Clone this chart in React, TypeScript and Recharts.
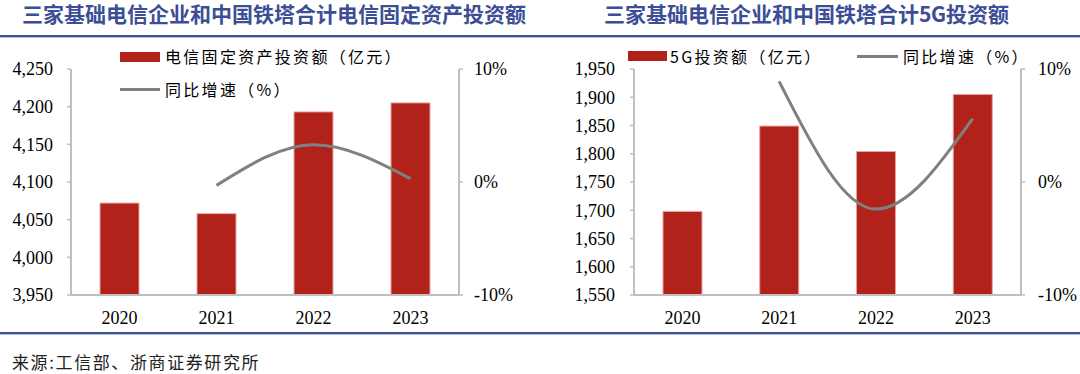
import React from "react";
import { ComposedChart, Bar, Line, XAxis, YAxis } from "recharts";

const years = ["2020", "2021", "2022", "2023"];
const telecomInvest = [4072, 4058, 4193, 4205];
const telecomGrowth: (number | null)[] = [null, -0.3, 3.3, 0.3];
const fiveGInvest = [1698, 1849, 1804, 1905];
const fiveGGrowth: (number | null)[] = [null, 8.9, -2.4, 5.6];

const leftTicks = [3950, 4000, 4050, 4100, 4150, 4200, 4250];
const rightTicks5G = [1550, 1600, 1650, 1700, 1750, 1800, 1850, 1900, 1950];
const pctTicks = [-10, 0, 10];

const leftTitle = "三家基础电信企业和中国铁塔合计电信固定资产投资额";
const rightTitle = "三家基础电信企业和中国铁塔合计5G投资额";
const leftBarName = "电信固定资产投资额（亿元）";
const rightBarName = "5G投资额（亿元）";
const growthName = "同比增速（%）";
const sourceText = "来源:工信部、浙商证券研究所";

const leftData = years.map((y, i) => ({ year: y, v: telecomInvest[i], g: telecomGrowth[i] }));
const rightData = years.map((y, i) => ({ year: y, v: fiveGInvest[i], g: fiveGGrowth[i] }));

const BAR = "#B0221A";
const BAR_STROKE = "#E7A3A0";
const LINE = "#808080";
const AXIS = "#BFBFBF";
const BLUE = "#3A5193";
const serif = "'Liberation Serif', 'Times New Roman', serif";
const cjk = "'Noto Sans CJK SC', sans-serif";

const fontFace = `
@font-face {
  font-family: 'TitleCJK';
  src: local('Noto Sans CJK SC Bold'), local('NotoSansCJKsc-Bold');
  font-weight: 700;
  ascent-override: 85%;
  descent-override: 20%;
  line-gap-override: 0%;
}
`;

const tickStyle = { fontFamily: serif, fontSize: 18, fill: "#000" };
const fmtNum = (v: number) => v.toLocaleString("en-US");
const fmtPct = (v: number) => `${v}%`;

const legendText: React.CSSProperties = {
  position: "absolute",
  fontFamily: cjk,
  fontSize: 16,
  letterSpacing: 2.3,
  color: "#000",
  lineHeight: "20px",
  whiteSpace: "nowrap",
};

const titleStyle: React.CSSProperties = {
  position: "absolute",
  top: 4,
  textAlign: "center",
  fontFamily: "'TitleCJK', 'Noto Sans CJK SC', sans-serif",
  fontWeight: 700,
  fontSize: 21,
  lineHeight: "22px",
  color: "#3B4E96",
  whiteSpace: "nowrap",
};

function Panel({ data, ticks, domain, ml, mr, lw, rw, lMargin, rMargin }: any) {
  return (
    <ComposedChart
      width={540}
      height={374}
      data={data}
      margin={{ top: 69, bottom: 49, left: ml, right: mr }}
    >
      <XAxis
        dataKey="year"
        tickLine={false}
        tickSize={0}
        tickMargin={16}
        axisLine={{ stroke: AXIS, strokeWidth: 2 }}
        tick={tickStyle}
        height={30}
        interval={0}
      />
      <YAxis
        yAxisId="left"
        domain={domain}
        ticks={ticks}
        width={lw}
        tickSize={4}
        tickMargin={lMargin}
        tickFormatter={fmtNum}
        axisLine={{ stroke: AXIS, strokeWidth: 2 }}
        tickLine={{ stroke: AXIS, strokeWidth: 1.5 }}
        tick={tickStyle}
        allowDataOverflow
      />
      <YAxis
        yAxisId="right"
        orientation="right"
        domain={[-10, 10]}
        ticks={pctTicks}
        width={rw}
        tickSize={4}
        tickMargin={rMargin}
        tickFormatter={fmtPct}
        axisLine={{ stroke: AXIS, strokeWidth: 2 }}
        tickLine={{ stroke: AXIS, strokeWidth: 1.5 }}
        tick={{ ...tickStyle, textAnchor: "start" }}
        allowDataOverflow
      />
      <Bar
        yAxisId="left"
        dataKey="v"
        fill={BAR}
        stroke={BAR_STROKE}
        strokeWidth={1}
        barSize={39}
        isAnimationActive={false}
      />
      <Line
        yAxisId="right"
        dataKey="g"
        type="monotone"
        stroke={LINE}
        strokeWidth={3}
        dot={false}
        connectNulls
        isAnimationActive={false}
      />
    </ComposedChart>
  );
}

export default function App() {
  return (
    <div
      style={{
        position: "absolute",
        left: 0,
        top: 0,
        width: 1080,
        height: 374,
        background: "#fff",
        overflow: "hidden",
      }}
    >
      <style>{fontFace}</style>
      <div style={{ ...titleStyle, left: 0, width: 548 }}>{leftTitle}</div>
      <div style={{ ...titleStyle, left: 540, width: 532 }}>{rightTitle}</div>

      <div style={{ position: "absolute", left: 0, top: 35, width: 1080, height: 2, background: BLUE }} />
      <div style={{ position: "absolute", left: 0, top: 37, width: 1080, height: 1, background: "#B4BEDC" }} />
      <div style={{ position: "absolute", left: 0, top: 332, width: 1080, height: 2, background: BLUE }} />
      <div style={{ position: "absolute", left: 0, top: 334, width: 1080, height: 1, background: "#B4BEDC" }} />

      <div style={{ position: "absolute", left: 0, top: 0 }}>
        <Panel
          data={leftData}
          ticks={leftTicks}
          domain={[3950, 4250]}
          ml={21}
          mr={21}
          lw={50}
          rw={60}
          lMargin={14}
          rMargin={11}
        />
      </div>
      <div style={{ position: "absolute", left: 540, top: 0 }}>
        <Panel
          data={rightData}
          ticks={rightTicks5G}
          domain={[1550, 1950]}
          ml={34}
          mr={9}
          lw={60}
          rw={50}
          lMargin={15}
          rMargin={13}
        />
      </div>

      <div style={{ position: "absolute", left: 120, top: 52, width: 40, height: 10, background: BAR }} />
      <div style={{ ...legendText, left: 165, top: 46 }}>{leftBarName}</div>
      <div style={{ position: "absolute", left: 120, top: 88, width: 40, height: 3, background: LINE }} />
      <div style={{ ...legendText, left: 165, top: 79 }}>{growthName}</div>

      <div style={{ position: "absolute", left: 628, top: 51, width: 39, height: 10, background: BAR }} />
      <div style={{ ...legendText, left: 670, top: 46 }}>{rightBarName}</div>
      <div style={{ position: "absolute", left: 857, top: 55, width: 41, height: 3, background: LINE }} />
      <div style={{ ...legendText, left: 903, top: 46 }}>{growthName}</div>

      <div
        style={{
          position: "absolute",
          left: 12,
          top: 351,
          fontFamily: cjk,
          fontSize: 17,
          letterSpacing: 1.6,
          lineHeight: "22px",
          color: "#222",
          whiteSpace: "nowrap",
        }}
      >
        {sourceText}
      </div>
    </div>
  );
}
